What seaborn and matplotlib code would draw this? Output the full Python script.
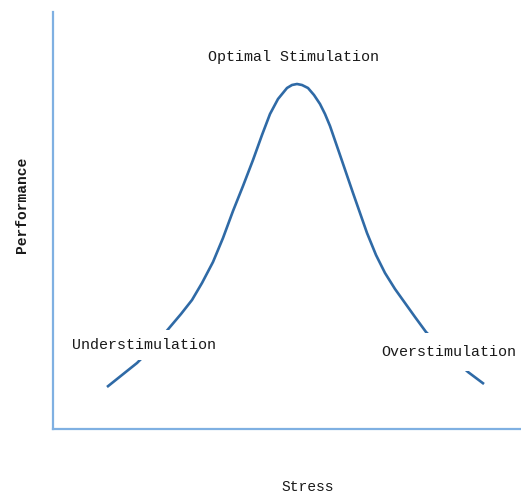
import matplotlib
matplotlib.use("Agg")
import matplotlib.pyplot as plt
import seaborn as sns
import pandas as pd

# Curve values (stress vs performance)
stress = [54, 84, 102, 117, 128, 139, 149, 160, 170, 180, 190, 200, 209, 217,
          225, 234, 239, 244, 249, 255, 261, 267, 272, 277, 287, 300, 314, 323,
          332, 342, 352, 362, 373, 394, 415, 431]
performance = [42, 66, 84, 102, 115, 129, 146, 167, 191, 218, 243, 269, 294, 315,
               330, 341, 344, 345, 344, 341, 334, 325, 315, 303, 274, 236, 196, 174,
               156, 140, 126, 112, 97, 76, 57, 45]

labels = ["Optimal Stimulation", "Understimulation", "Overstimulation"]
label_x = [241, 91, 396]
label_y = [372, 84, 77]
x_title = "Stress"
y_title = "Performance"

sns.set_style("white")
plt.rcParams['font.family'] = ['Liberation Mono', 'DejaVu Sans Mono']

W, H = 521, 493
fig = plt.figure(figsize=(W / 100, H / 100), dpi=100)
ax = fig.add_axes([53 / W, 64 / H, 468 / W, 417 / H])

df = pd.DataFrame({"Stress": stress, "Performance": performance})
sns.lineplot(data=df, x="Stress", y="Performance", sort=False, estimator=None,
             color="#2f6aa6", linewidth=1.9, ax=ax)
for ln in ax.get_lines():
    ln.set_solid_joinstyle("round")
    ln.set_solid_capstyle("butt")

ax.set_xlim(0, 468)
ax.set_ylim(0, 417)
ax.set_xticks([])
ax.set_yticks([])
ax.set_xlabel("")
ax.set_ylabel("")
for s in ["top", "right"]:
    ax.spines[s].set_visible(False)
for s in ["left", "bottom"]:
    ax.spines[s].set_color("#7fb0e2")
    ax.spines[s].set_linewidth(1.6)

fs = 10.8
pads = [0.2, 0.55, 0.8]
for t, x, y, p in zip(labels, label_x, label_y, pads):
    ax.text(x, y, t, ha="center", va="center", fontsize=fs, color="#1a1a1a",
            clip_on=False, zorder=5,
            bbox=dict(boxstyle=f"square,pad={p}", facecolor="white", edgecolor="none"))

fig.text(22 / W, 1 - 205 / H, y_title, rotation=90, ha="center", va="center",
         fontsize=10.5, fontweight="bold", color="#1a1a1a")
fig.text(308 / W, 1 - 487 / H, x_title, ha="center", va="center",
         fontsize=10.5, color="#1a1a1a")

fig.savefig("out.png", dpi=100)
